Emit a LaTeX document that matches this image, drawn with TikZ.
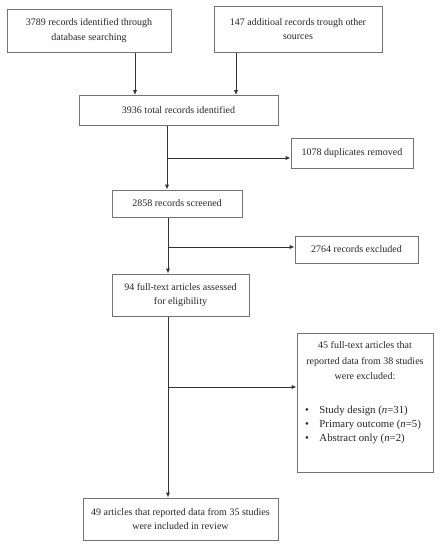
\documentclass[tikz,border=0pt]{standalone}
\usepackage{fontspec}
\setmainfont{Liberation Serif}
\usetikzlibrary{arrows.meta,calc}
\begin{document}
\begin{tikzpicture}[x=1pt,y=-1pt,
  box/.style={draw=black!55,line width=1pt,inner sep=0pt,align=center,font=\fontsize{10}{14.5}\selectfont,text=black!85},
  arr/.style={draw=black!80,line width=1pt,-{Latex[length=5pt,width=4.5pt]}},
  txt/.style={inner sep=0pt,font=\fontsize{10}{15.5}\selectfont,text=black!85},
  btxt/.style={inner sep=0pt,font=\fontsize{10.8}{14}\selectfont,text=black!85}]
\useasboundingbox (0,0) rectangle (444,550);
\node[box,minimum width=164pt,minimum height=43pt] (b1) at (89,30.5) {3789 records identified through\\database searching};
\node[box,minimum width=168pt,minimum height=46pt] (b2) at (298,29) {147 additioal records trough other\\sources};
\node[box,minimum width=199pt,minimum height=30pt] (b3) at (178.5,110.5) {3936 total records identified};
\node[box,minimum width=122pt,minimum height=30pt] (dup) at (352,153) {1078 duplicates removed};
\node[box,minimum width=130pt,minimum height=27pt] (scr) at (177,203.5) {2858 records screened};
\node[box,minimum width=123pt,minimum height=27pt] (exc) at (356.5,249.5) {2764 records excluded};
\node[box,minimum width=137pt,minimum height=42pt] (ft) at (180.5,295) {94 full-text articles assessed\\for eligibility};
\node[box,minimum width=136pt,minimum height=139pt] (ex45) at (365,402.5) {};
\node[txt,align=center,anchor=north] (hd) at (365,341.5) {45 full-text articles that\\reported data from 38 studies\\were excluded:};
\node[btxt,anchor=base west] (l1) at (305,413) {\textbullet\hspace{10.5pt}Study design (\textit{n}=31)};
\node[btxt,anchor=base west] (l2) at (305,427) {\textbullet\hspace{10.5pt}Primary outcome (\textit{n}=5)};
\node[btxt,anchor=base west] (l3) at (305,441) {\textbullet\hspace{10.5pt}Abstract only (\textit{n}=2)};
\node[box,minimum width=195pt,minimum height=42pt] (fin) at (180.5,519) {49 articles that reported data from 35 studies\\were included in review};
\coordinate (c1) at (135,0);
\coordinate (c2) at (236,0);
\coordinate (m1) at (167,0);
\coordinate (m2) at (168,0);
\draw[arr] (b1.south -| c1) -- (b3.north -| c1);
\draw[arr] (b2.south -| c2) -- (b3.north -| c2);
\draw[arr] (b3.south -| m1) -- (scr.north -| m1);
\draw[arr] ($(dup.west)+(0,5)$) ++(-124,0) -- ($(dup.west)+(0,5)$);
\draw[arr] (scr.south -| m2) -- (ft.north -| m2);
\draw[arr] ($(exc.west)+(0,-2.5)$) ++(-127,0) -- ($(exc.west)+(0,-2.5)$);
\draw[arr] (ft.south -| m2) -- (fin.north -| m2);
\draw[arr] ($(ex45.west)+(0,-15.5)$) ++(-129,0) -- ($(ex45.west)+(0,-15.5)$);
\end{tikzpicture}
\end{document}
